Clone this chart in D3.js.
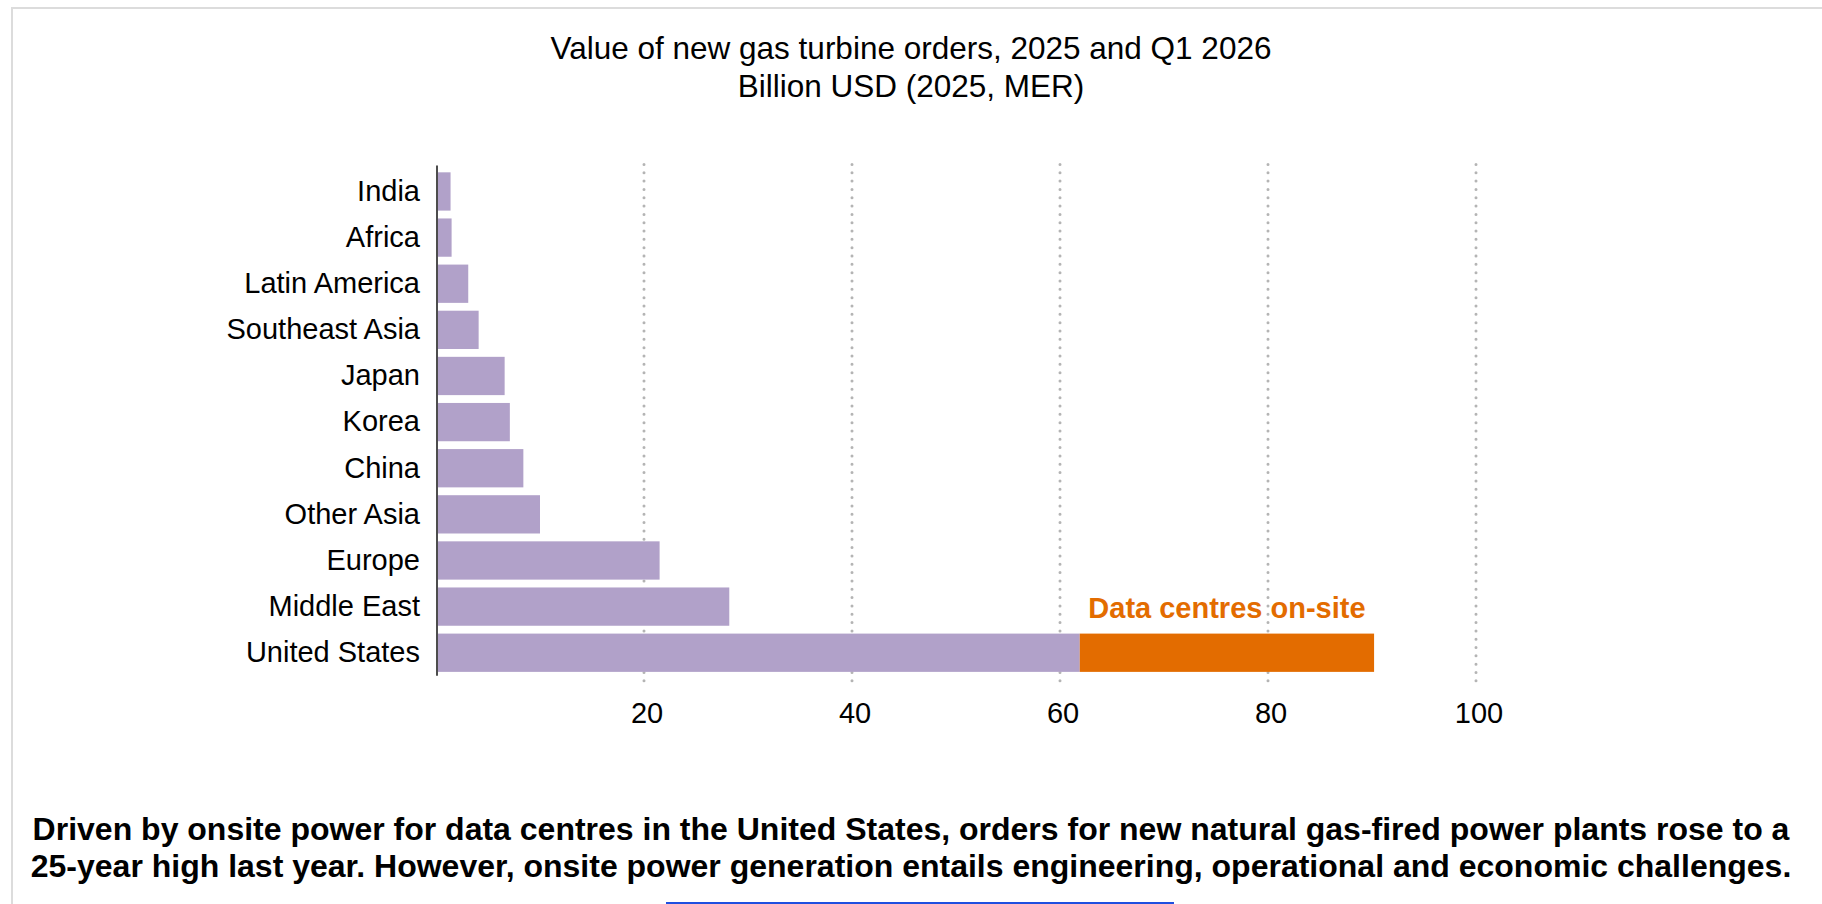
<!DOCTYPE html>
<html>
<head>
<meta charset="utf-8">
<script src="https://cdn.jsdelivr.net/npm/d3@7"></script>
<style>
    body { margin: 0; background: #fff; }
    svg { display: block; font-family: 'Liberation Sans', Arial, sans-serif; }
</style>
</head>
<body>
<svg id="chart"></svg>
<script>
/**
 * Data.
 */
const regions = ['India', 'Africa', 'Latin America', 'Southeast Asia', 'Japan', 'Korea',
    'China', 'Other Asia', 'Europe', 'Middle East', 'United States'];
const ordersOther = [1.4, 1.5, 3.1, 4.1, 6.6, 7.1, 8.4, 10.0, 21.5, 28.2, 61.9];
const ordersDataCentres = [0, 0, 0, 0, 0, 0, 0, 0, 0, 0, 28.3];
const xTicks = [20, 40, 60, 80, 100];
const titleLines = ['Value of new gas turbine orders, 2025 and Q1 2026', 'Billion USD (2025, MER)'];
const segmentLabel = 'Data centres on-site';
const captionLines = [
    'Driven by onsite power for data centres in the United States, orders for new natural gas-fired power plants rose to a',
    '25-year high last year. However, onsite power generation entails engineering, operational and economic challenges.'
];

/**
 * Visual configs.
 */
const visWidth = 1822, visHeight = 904,
    colors = { other: '#b1a1c9', dataCentres: '#e36c00' },
    labelColor = '#000';

const svg = d3.select('#chart')
    .attr('width', visWidth)
    .attr('height', visHeight);

// Frame around the figure
svg.append('rect')
    .attr('x', 12).attr('y', 8)
    .attr('width', visWidth).attr('height', visHeight)
    .attr('fill', 'none')
    .attr('stroke', '#dcdcdc')
    .attr('stroke-width', 2);

/**
 * Scales.
 */
const xScale = d3.scaleLinear().domain([0, 100]).range([436, 1476]);
const yScale = d3.scaleBand()
    .domain(regions)
    .range([168.4, 675.8])
    .paddingInner(0.17)
    .paddingOuter(0.085);

const table = regions.map((r, i) => ({ region: r, other: ordersOther[i], dataCentres: ordersDataCentres[i] }));
const series = d3.stack().keys(['other', 'dataCentres'])(table);

/**
 * Title.
 */
svg.append('g').attr('class', 'title')
    .selectAll('text')
    .data(titleLines)
    .join('text')
        .attr('x', visWidth / 2)
        .attr('y', (d, i) => 59 + i * 38)
        .attr('text-anchor', 'middle')
        .attr('font-size', 31.5)
        .attr('fill', labelColor)
        .text(d => d);

/**
 * Grid lines, dotted.
 */
const [y0, y1] = yScale.range();
svg.append('g').attr('class', 'grid')
    .selectAll('line')
    .data(xTicks)
    .join('line')
        .attr('x1', d => xScale(d)).attr('x2', d => xScale(d))
        .attr('y1', y0 - 4).attr('y2', y1 + 10)
        .attr('stroke', '#b4b4b4')
        .attr('stroke-width', 3)
        .attr('stroke-linecap', 'round')
        .attr('stroke-dasharray', '0 8.33');

/**
 * Bars.
 */
svg.append('g').attr('class', 'bars')
    .selectAll('g')
    .data(series)
    .join('g')
        .attr('fill', d => colors[d.key])
    .selectAll('rect')
    .data(d => d.filter(p => p[1] > p[0]))
    .join('rect')
        .attr('x', d => xScale(d[0]))
        .attr('y', d => yScale(d.data.region))
        .attr('width', d => xScale(d[1]) - xScale(d[0]))
        .attr('height', yScale.bandwidth());

// Segment label above the data centre part
const usDc = series[1].find(d => d.data.region === 'United States');
svg.append('text')
    .attr('x', (xScale(usDc[0]) + xScale(usDc[1])) / 2)
    .attr('y', yScale('United States') - 16)
    .attr('text-anchor', 'middle')
    .attr('font-size', 29)
    .attr('font-weight', 'bold')
    .attr('fill', colors.dataCentres)
    .text(segmentLabel);

/**
 * Axes.
 */
svg.append('line')
    .attr('x1', xScale(0) + 1).attr('x2', xScale(0) + 1)
    .attr('y1', y0 - 3).attr('y2', y1)
    .attr('stroke', '#4d4d4d')
    .attr('stroke-width', 2);

const yAxis = d3.axisLeft(yScale).tickSize(0).tickPadding(16);
svg.append('g')
    .attr('transform', 'translate(' + xScale(0) + ',0)')
    .call(yAxis)
    .call(g => g.select('.domain').remove())
    .call(g => g.selectAll('text')
        .attr('font-size', 29)
        .attr('font-family', null)
        .attr('fill', labelColor));

const xAxis = d3.axisBottom(xScale).tickValues(xTicks).tickSize(0).tickPadding(0);
svg.append('g')
    .attr('transform', 'translate(2.5,' + 702 + ')')
    .call(xAxis)
    .call(g => g.select('.domain').remove())
    .call(g => g.selectAll('text')
        .attr('dy', '0.71em')
        .attr('font-size', 29)
        .attr('font-family', null)
        .attr('fill', labelColor));

/**
 * Caption.
 */
svg.append('g').attr('class', 'caption')
    .selectAll('text')
    .data(captionLines)
    .join('text')
        .attr('x', visWidth / 2)
        .attr('y', (d, i) => 840 + i * 37)
        .attr('text-anchor', 'middle')
        .attr('font-size', 32)
        .attr('font-weight', 'bold')
        .attr('fill', labelColor)
        .text(d => d);

// Blue rule at the very bottom
svg.append('line')
    .attr('x1', 666).attr('x2', 1174)
    .attr('y1', 903).attr('y2', 903)
    .attr('stroke', '#1f4fe0')
    .attr('stroke-width', 2);
</script>
</body>
</html>
